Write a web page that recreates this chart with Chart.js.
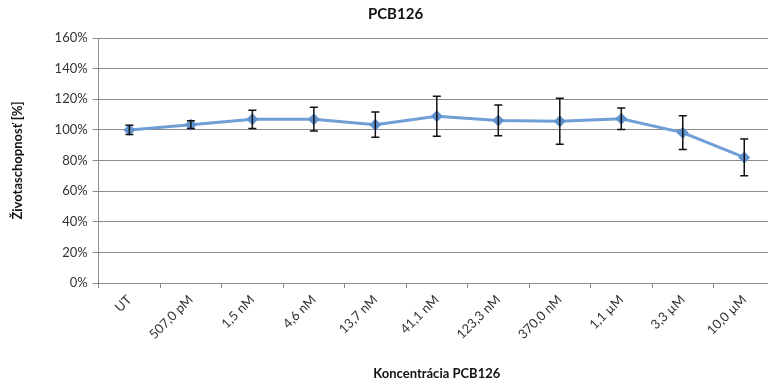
<!DOCTYPE html>
<html>
<head>
<meta charset="utf-8">
<script src="https://cdn.jsdelivr.net/npm/chart.js@4"></script>
<style>
  html, body { margin: 0; padding: 0; background: #fff; overflow: hidden; }
  #wrap { width: 781px; height: 390px; }
</style>
</head>
<body>
<div id="wrap"><canvas id="chart" width="781" height="390"></canvas></div>
<script>
const labels = ['UT', '507,0 pM', '1,5 nM', '4,6 nM', '13,7 nM', '41,1 nM', '123,3 nM', '370,0 nM', '1,1 µM', '3,3 µM', '10,0 µM'];
const viability = [100, 103.4, 106.9, 107, 103.4, 108.9, 106.2, 105.6, 107.3, 98.2, 82];
const errors = [3, 2.5, 6, 7.8, 8.2, 13, 10, 15, 7, 11, 12];
const yTicks = [0, 20, 40, 60, 80, 100, 120, 140, 160];

const fontFamily = 'Lato, "Open Sans", sans-serif';

// Excel-style error bars, drawn through the chart scales
const errorBars = {
  id: 'errorBars',
  afterDatasetsDraw(chart) {
    const ctx = chart.ctx;
    const x = chart.scales.x;
    const y = chart.scales.y;
    ctx.save();
    ctx.strokeStyle = '#111';
    ctx.lineWidth = 1.5;
    viability.forEach((v, i) => {
      const px = x.getPixelForValue(i);
      const top = y.getPixelForValue(v + errors[i]);
      const bot = y.getPixelForValue(v - errors[i]);
      ctx.beginPath();
      ctx.moveTo(px, top); ctx.lineTo(px, bot);
      ctx.moveTo(px - 4, top); ctx.lineTo(px + 4, top);
      ctx.moveTo(px - 4, bot); ctx.lineTo(px + 4, bot);
      ctx.stroke();
    });
    ctx.restore();
  }
};

const config = {
  type: 'line',
  data: {
    labels: labels,
    datasets: [{
      label: 'PCB126',
      data: viability,
      borderColor: '#6f9fd6',
      backgroundColor: '#5f92cf',
      borderWidth: 3,
      pointStyle: 'rectRot',
      pointRadius: 6,
      pointBorderWidth: 0,
      tension: 0
    }]
  },
  options: {
    responsive: false,
    animation: false,
    layout: { padding: { left: 10, right: 0, top: 3, bottom: 8 } },
    plugins: {
      legend: { display: false },
      tooltip: { enabled: false },
      title: {
        display: true,
        text: 'PCB126',
        color: '#111',
        font: { family: fontFamily, size: 15, weight: 'bold' },
        padding: { top: 2, bottom: 15 }
      }
    },
    scales: {
      x: {
        offset: true,
        grid: { offset: true, drawOnChartArea: false, drawTicks: true, tickLength: 5, color: '#888' },
        border: { display: false },
        ticks: {
          color: '#333',
          font: { family: fontFamily, size: 13 },
          minRotation: 45,
          maxRotation: 45,
          padding: 4
        },
        title: {
          display: true,
          text: 'Koncentrácia PCB126',
          color: '#111',
          font: { family: fontFamily, size: 13, weight: 'bold' },
          padding: { top: 20, bottom: 0 }
        }
      },
      y: {
        min: 0,
        max: 160,
        afterBuildTicks(axis) { axis.ticks = yTicks.map(v => ({ value: v })); },
        grid: { color: '#8c8c8c', lineWidth: 1, tickLength: 6 },
        border: { display: true, color: '#8c8c8c' },
        ticks: {
          color: '#333',
          font: { family: fontFamily, size: 13 },
          padding: 5,
          callback: v => v + '%'
        },
        title: {
          display: true,
          text: 'Životaschopnosť [%]',
          color: '#111',
          font: { family: fontFamily, size: 13, weight: 'bold' },
          padding: { top: 0, bottom: 24 }
        }
      }
    }
  },
  plugins: [errorBars]
};

new Chart(document.getElementById('chart'), config);
</script>
</body>
</html>
